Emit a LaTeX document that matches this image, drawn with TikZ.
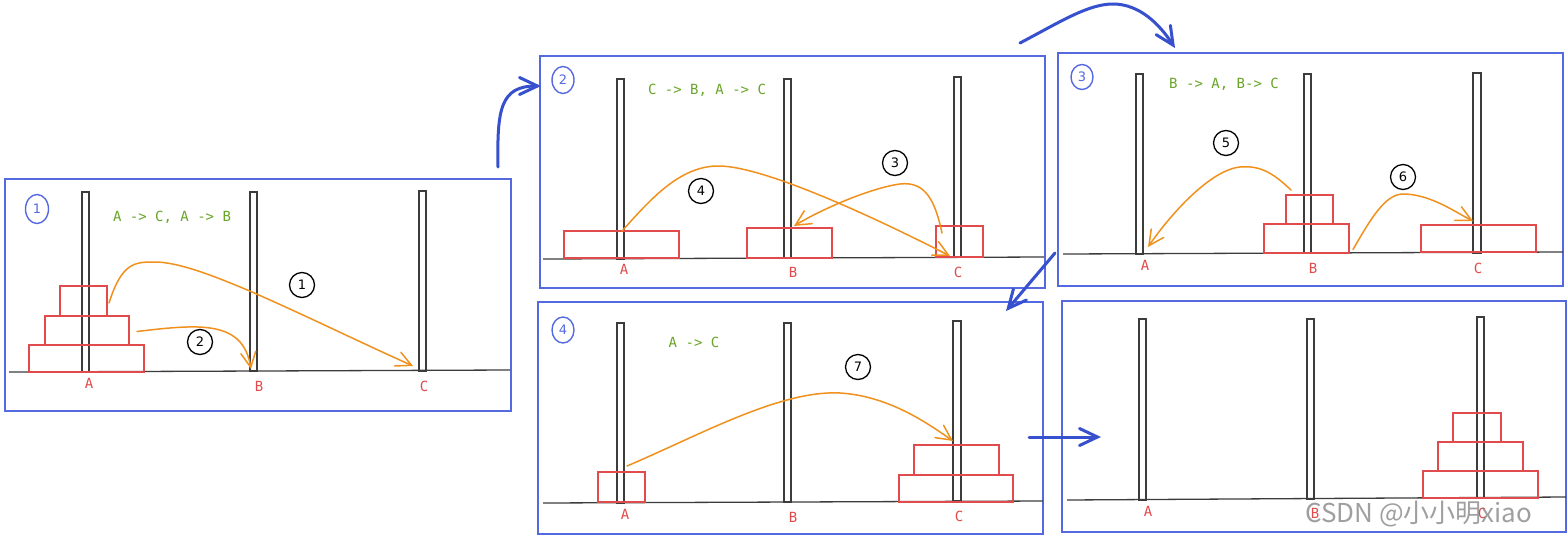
\documentclass[tikz,border=0pt]{standalone}
\usepackage{fontspec}
\newfontfamily\hand{DejaVu Sans Mono}
\newfontfamily\numf{DejaVu Sans}
\newfontfamily\cjk{Noto Sans CJK SC}
\usetikzlibrary{arrows.meta,shapes.geometric}
\definecolor{boxblue}{RGB}{85,105,225}
\definecolor{arrblue}{RGB}{55,80,205}
\definecolor{rodgray}{RGB}{60,60,60}
\definecolor{diskred}{RGB}{225,75,75}
\definecolor{movegreen}{RGB}{105,165,40}
\definecolor{moveorange}{RGB}{240,145,30}
\newcommand\panelbox[5]{\node[panelst, minimum width={#4-#2}, minimum height={#5-#3}] (#1) at ({(#2+#4)/2},{(#3+#5)/2}) {};}
\newcommand\rodn[5]{\node[rodst, minimum width={#3-#2}, minimum height={#5-#4}] (#1) at ({(#2+#3)/2},{(#4+#5)/2}) {};}
\newcommand\diskn[5]{\node[diskst, minimum width={#4-#2}, minimum height={#5-#3}] (#1) at ({(#2+#4)/2},{(#3+#5)/2}) {};}
\begin{document}
\begin{tikzpicture}[x=1pt,y=-1pt,
  panelst/.style={draw=boxblue, line width=1.8pt, inner sep=0pt, outer sep=0pt},
  rodst/.style={draw=rodgray, line width=1.4pt, inner sep=0pt, outer sep=0pt},
  diskst/.style={draw=diskred, line width=1.1pt, inner sep=0pt, outer sep=0pt},
  groundst/.style={draw=rodgray, line width=1.3pt},
  lblst/.style={text=diskred, font=\hand\fontsize{14}{14}\selectfont, inner sep=0pt},
  movest/.style={text=movegreen, font=\hand\fontsize{14}{14}\selectfont, inner sep=0pt},
  stepnum/.style={circle, draw=black, line width=1.3pt, minimum size=25pt, inner sep=0pt, font=\numf\fontsize{13}{13}\selectfont},
  panelnum/.style={ellipse, draw=boxblue, line width=1.4pt, minimum width=22pt, minimum height=27pt, inner sep=0pt, text=boxblue, font=\numf\fontsize{13}{13}\selectfont},
  oarrow/.style={draw=moveorange, line width=1.5pt, line cap=round, -{Straight Barb[length=15pt,width=15pt,line cap=round]}},
  barrow/.style={draw=arrblue, line width=3pt, line cap=round, -{Straight Barb[length=18pt,width=17pt,line cap=round]}}
]
\useasboundingbox (0,0) rectangle (1568,541);
\fill[white] (0,0) rectangle (1568,541);

% ---------- panels ----------
\panelbox{P1}{5}{179}{511}{411}
\panelbox{P2}{540}{56}{1045}{288}
\panelbox{P3}{1058}{53}{1563}{286}
\panelbox{P4}{538}{302}{1043}{534}
\panelbox{P5}{1062}{301}{1566}{532}

% ---------- ground lines ----------
\coordinate (g1l) at (9,372);   \coordinate (g1r) at (510,370);
\coordinate (g2l) at (543,259); \coordinate (g2r) at (1044,257);
\coordinate (g3l) at (1063,254);\coordinate (g3r) at (1563,252);
\coordinate (g4l) at (543,503); \coordinate (g4r) at (1043,501);
\coordinate (g5l) at (1067,500);\coordinate (g5r) at (1566,497);
\foreach \g in {1,...,5} {\draw[groundst] (g\g l) -- (g\g r);}

% ---------- rods ----------
\rodn{r1a}{82}{89}{192}{372}
\rodn{r1b}{250}{257}{192}{371}
\rodn{r1c}{419}{426}{191}{371}
\rodn{r2a}{617}{624}{79}{259}
\rodn{r2b}{784}{791}{79}{258}
\rodn{r2c}{954}{961}{77}{257}
\rodn{r3a}{1136}{1143}{74}{254}
\rodn{r3b}{1304}{1311}{74}{253}
\rodn{r3c}{1473}{1481}{73}{253}
\rodn{r4a}{617}{624}{323}{503}
\rodn{r4b}{784}{791}{323}{502}
\rodn{r4c}{953}{961}{321}{501}
\rodn{r5a}{1139}{1146}{319}{500}
\rodn{r5b}{1307}{1314}{319}{499}
\rodn{r5c}{1477}{1484}{317}{498}

% ---------- disks ----------
\diskn{d1s}{60}{286}{107}{316}
\diskn{d1m}{45}{316}{129}{345}
\diskn{d1l}{29}{345}{144}{372}
\diskn{d2l}{564}{231}{679}{258}
\diskn{d2m}{747}{228}{832}{258}
\diskn{d2s}{936}{226}{983}{257}
\diskn{d3s}{1286}{195}{1333}{224}
\diskn{d3m}{1264}{224}{1349}{253}
\diskn{d3l}{1421}{225}{1536}{252}
\diskn{d4s}{598}{472}{645}{502}
\diskn{d4m}{914}{445}{999}{475}
\diskn{d4l}{899}{475}{1013}{502}
\diskn{d5s}{1453}{413}{1501}{442}
\diskn{d5m}{1438}{442}{1523}{471}
\diskn{d5l}{1423}{471}{1538}{498}

% ---------- peg labels ----------
\node[lblst] (l1a) at (89,383) {A};
\node[lblst] (l1b) at (259,386) {B};
\node[lblst] (l1c) at (424,386) {C};
\node[lblst] (l2a) at (624,269) {A};
\node[lblst] (l2b) at (793,272) {B};
\node[lblst] (l2c) at (958,272) {C};
\node[lblst] (l3a) at (1145,265) {A};
\node[lblst] (l3b) at (1313,268) {B};
\node[lblst] (l3c) at (1478,268) {C};
\node[lblst] (l4a) at (625,514) {A};
\node[lblst] (l4b) at (793,517) {B};
\node[lblst] (l4c) at (959,516) {C};
\node[lblst] (l5a) at (1148,511) {A};
\node[lblst] (l5b) at (1315,513) {B};
\node[lblst] (l5c) at (1482,513) {C};

% ---------- move texts ----------
\node[movest] (m1) at (172,217) {A -> C, A -> B};
\node[movest] (m2) at (707,90) {C -> B, A -> C};
\node[movest] (m3) at (1224,84) {B -> A, B-> C};
\node[movest] (m4) at (694,342) {A -> C};

% ---------- panel numbers ----------
\node[panelnum, minimum width=23pt, minimum height=29pt] (n1) at (37,209) {1};
\node[panelnum] (n2) at (563,80) {2};
\node[panelnum, minimum height=25pt] (n3) at (1082,77) {3};
\node[panelnum, minimum height=26pt] (n4) at (563,330) {4};

% ---------- step numbers ----------
\node[stepnum] (s1) at (302,285) {1};
\node[stepnum] (s2) at (200,342) {2};
\node[stepnum] (s3) at (895,163) {3};
\node[stepnum] (s4) at (701,191) {4};
\node[stepnum] (s5) at (1226,143) {5};
\node[stepnum] (s6) at (1403,177) {6};
\node[stepnum] (s7) at (858,367) {7};

% ---------- orange move arrows ----------
\coordinate (e1) at (413,366);
\coordinate (e2) at (251,369);
\coordinate (e3) at (794,226);
\coordinate (e4) at (950,256);
\coordinate (e5) at (1148,247);
\coordinate (e6) at (1473,221);
\coordinate (e7) at (953,441);
\draw[oarrow] ([xshift=2pt,yshift=-2pt]d1s.east) .. controls (122,262) and (135,262) .. (155,262)
   .. controls (200,262) and (300,315) .. (e1);
\draw[oarrow] ([xshift=8pt,yshift=-1pt]d1m.east) .. controls (200,324) and (243,320) .. (e2);
\draw[oarrow] ([xshift=6pt,yshift=-7pt]d2s.north west) .. controls (935,200) and (925,181) .. (900,184)
   .. controls (870,188) and (820,210) .. (e3);
\draw[oarrow] ([xshift=-2pt]d2l.north -| r2a.east) .. controls (650,200) and (680,165) .. (720,166)
   .. controls (760,167) and (850,205) .. (e4);
\draw[oarrow] ([xshift=5pt,yshift=5pt]d3s.north west) .. controls (1275,175) and (1262,165) .. (1240,167)
   .. controls (1210,170) and (1170,215) .. (e5);
\draw[oarrow] ([xshift=4pt,yshift=-11pt]d3m.east) .. controls (1370,220) and (1385,194) .. (1403,194)
   .. controls (1430,194) and (1455,212) .. (e6);
\draw[oarrow] ([xshift=-18pt,yshift=6pt]d4s.north east) .. controls (700,435) and (780,390) .. (840,393)
   .. controls (890,396) and (930,425) .. (e7);

% ---------- blue flow arrows ----------
\coordinate (b1s) at (498,167);
\coordinate (b1e) at (541,86);
\coordinate (b2s) at (1020,43);
\coordinate (b2e) at (1175,48);
\coordinate (b3s) at (1055,253);
\coordinate (b3e) at (1006,311);
\coordinate (b4s) at (1029,437);
\coordinate (b4e) at (1101,437);
\draw[barrow] (b1s) .. controls (497,110) and (500,86) .. (b1e);
\draw[barrow] (b2s) .. controls (1060,22) and (1088,4) .. (1113,4) .. controls (1140,4) and (1160,25) .. (b2e);
\draw[barrow] (b3s) -- (b3e);
\draw[barrow] (b4s) -- (b4e);

% ---------- watermark ----------
\node[anchor=west, inner sep=0pt, text=gray, opacity=0.75, font=\cjk\fontsize{26}{26}\selectfont] (wm) at (1305,514) {CSDN @小小明xiao};
\end{tikzpicture}
\end{document}
